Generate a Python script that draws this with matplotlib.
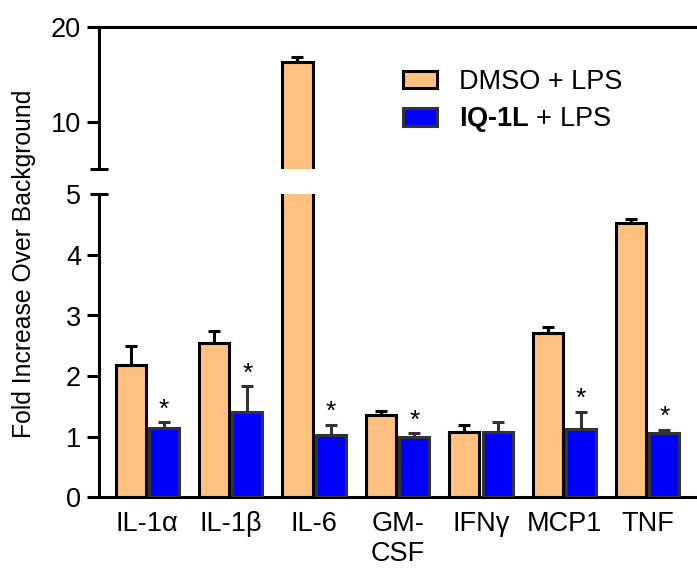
import matplotlib
matplotlib.use("Agg")
import matplotlib.pyplot as plt
import numpy as np

# ---------------- data ----------------
categories = ['IL-1α', 'IL-1β', 'IL-6', 'GM-\nCSF', 'IFNγ', 'MCP1', 'TNF']
dmso = [2.18, 2.54, 16.35, 1.35, 1.08, 2.71, 4.52]
dmso_err = [0.31, 0.20, 0.49, 0.07, 0.12, 0.10, 0.07]
iq = [1.14, 1.41, 1.02, 0.995, 1.08, 1.13, 1.06]
iq_err = [0.10, 0.42, 0.18, 0.065, 0.16, 0.28, 0.05]
significant = [True, True, True, True, False, True, True]
series_labels = ['DMSO + LPS', r'$\mathbf{IQ‐1L}$ + LPS']
lower_ticks = [0, 1, 2, 3, 4, 5]
upper_ticks = [10, 20]

# ---------------- style ----------------
plt.rcParams['font.family'] = ['Liberation Sans', 'DejaVu Sans']
plt.rcParams['mathtext.fontset'] = 'custom'
plt.rcParams['mathtext.rm'] = 'Liberation Sans'
plt.rcParams['mathtext.bf'] = 'Liberation Sans:bold'

ORANGE = '#FFC080'
BLUE = '#0000FF'
EDGE_O = '#000000'
EDGE_B = '#333333'
LW = 2.2
FS = 19.5

W, H = 697, 568
fig = plt.figure(figsize=(W / 100, H / 100), dpi=100)

def px_axes(x0, y0, x1, y1):
    return fig.add_axes([x0 / W, 1 - y1 / H, (x1 - x0) / W, (y1 - y0) / H])

ax_lo = px_axes(99, 194.3, 697, 497.3)
ax_hi = px_axes(99, 27, 697, 169)

x = np.arange(len(categories))
bw = 0.36
off = 0.2

for ax in (ax_lo, ax_hi):
    b1 = ax.bar(x - off, dmso, bw, color=ORANGE, edgecolor=EDGE_O, linewidth=LW, zorder=3)
    b2 = ax.bar(x + off, iq, bw, color=BLUE, edgecolor=EDGE_B, linewidth=LW, zorder=3)
    ax.errorbar(x - off, dmso, yerr=[np.zeros(len(dmso)), dmso_err], fmt='none',
                ecolor=EDGE_O, elinewidth=LW, capsize=4.3, capthick=LW, zorder=2)
    ax.errorbar(x + off, iq, yerr=[np.zeros(len(iq)), iq_err], fmt='none',
                ecolor=EDGE_B, elinewidth=LW, capsize=4.3, capthick=LW, zorder=2)
    ax.set_xlim(-0.58, 6.59)
    ax.spines['right'].set_visible(False)
    for s in ax.spines.values():
        s.set_linewidth(LW)
    ax.tick_params(axis='y', length=9, width=LW, labelsize=FS, pad=4)
    if ax is ax_lo:
        handles = (b1, b2)

for i, sig in enumerate(significant):
    if sig:
        ax_lo.annotate('*', (x[i] + off, iq[i] + iq_err[i]), xytext=(0, 0.5),
                       textcoords='offset points', ha='center', va='bottom', fontsize=19)

# lower axes
ax_lo.set_ylim(0, 5)
ax_lo.set_yticks(lower_ticks)
ax_lo.spines['top'].set_visible(False)
ax_lo.set_xticks(x)
ax_lo.set_xticklabels(categories, fontsize=FS, linespacing=1.2)
ax_lo.tick_params(axis='x', length=0, pad=10)
ax_lo.yaxis.get_major_ticks()[-1].tick1line.set_markersize(0)

# upper axes
ax_hi.set_ylim(5, 20)
ax_hi.set_yticks(upper_ticks)
ax_hi.spines['bottom'].set_visible(False)
ax_hi.set_xticks([])

# break caps
for ax, yy in ((ax_lo, 1), (ax_hi, 0)):
    ax.plot([0], [yy], marker='_', markersize=12.5, mew=LW, color='black',
            transform=ax.transAxes, clip_on=False, zorder=5)

# legend
ax_hi.legend(handles, series_labels, loc='upper left', frameon=False, fontsize=FS,
             bbox_to_anchor=(403 / W, 1 - 69 / H), bbox_transform=fig.transFigure,
             handlelength=1.25, handleheight=0.62, handletextpad=0.8,
             labelspacing=0.38, borderpad=0, borderaxespad=0)

fig.text(24 / W, 1 - 264 / H, 'Fold Increase Over Background', rotation=90,
         ha='center', va='center', fontsize=17.8)

fig.savefig('out.png', dpi=100)
